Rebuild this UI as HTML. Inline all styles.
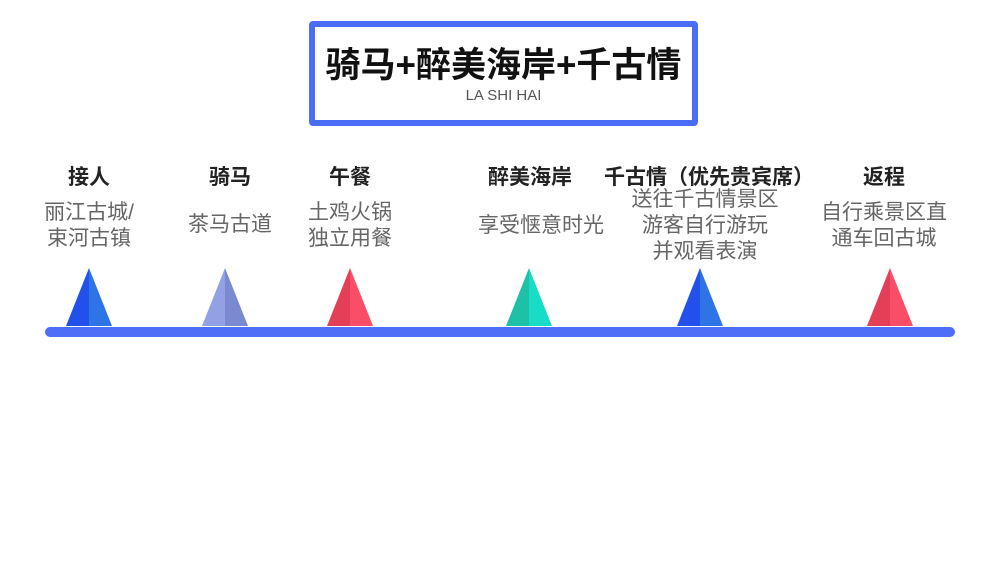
<!DOCTYPE html>
<html><head><meta charset="utf-8"><style>
body{margin:0;width:1000px;height:562px;background:#fff;position:relative;overflow:hidden;font-family:"Liberation Sans","Noto Sans CJK SC",sans-serif}
.box{position:absolute;left:309px;top:21px;width:377px;height:93px;border:6px solid #4b6cf6;border-radius:4px;text-align:center}
.t{font-size:35px;font-weight:bold;color:#111;margin-top:19px;line-height:40px}
.s{font-size:15px;color:#555;margin-top:1px}
.h{position:absolute;top:164px;width:240px;margin-left:-120px;text-align:center;font-size:21px;font-weight:bold;color:#222;line-height:28px}
.d{position:absolute;width:260px;margin-left:-130px;text-align:center;font-size:21px;color:#666;line-height:26px}
.line{position:absolute;left:45px;top:327px;width:910px;height:10px;border-radius:5px;background:#4f6ef7}
</style></head><body>
<div class="box"><div class="t">骑马+醉美海岸+千古情</div><div class="s">LA SHI HAI</div></div>
<div class="h" style="left:89px">接人</div>
<div class="h" style="left:230px">骑马</div>
<div class="h" style="left:350px">午餐</div>
<div class="h" style="left:530px">醉美海岸</div>
<div class="h" style="left:709px">千古情（优先贵宾席）</div>
<div class="h" style="left:884px">返程</div>
<div class="d" style="left:89px;top:200px">丽江古城/<br>束河古镇</div>
<div class="d" style="left:230px;top:212px">茶马古道</div>
<div class="d" style="left:350px;top:200px">土鸡火锅<br>独立用餐</div>
<div class="d" style="left:541px;top:213px">享受惬意时光</div>
<div class="d" style="left:705px;top:187px">送往千古情景区<br>游客自行游玩<br>并观看表演</div>
<div class="d" style="left:884px;top:200px">自行乘景区直<br>通车回古城</div>
<svg width="1000" height="562" style="position:absolute;left:0;top:0">
<polygon points="89,268 66,326 89,326" fill="#2150ea"/><polygon points="89,268 112,326 89,326" fill="#2e74e6"/>
<polygon points="225,268 202,326 225,326" fill="#94a0e4"/><polygon points="225,268 248,326 225,326" fill="#7a89d0"/>
<polygon points="350,268 327,326 350,326" fill="#e53e58"/><polygon points="350,268 373,326 350,326" fill="#fa4d68"/>
<polygon points="529,268 506,326 529,326" fill="#1ec1a6"/><polygon points="529,268 552,326 529,326" fill="#19dcc6"/>
<polygon points="700,268 677,326 700,326" fill="#2150ea"/><polygon points="700,268 723,326 700,326" fill="#2e74e6"/>
<polygon points="890,268 867,326 890,326" fill="#e53e58"/><polygon points="890,268 913,326 890,326" fill="#fa4d68"/>
</svg>
<div class="line"></div>
</body></html>
